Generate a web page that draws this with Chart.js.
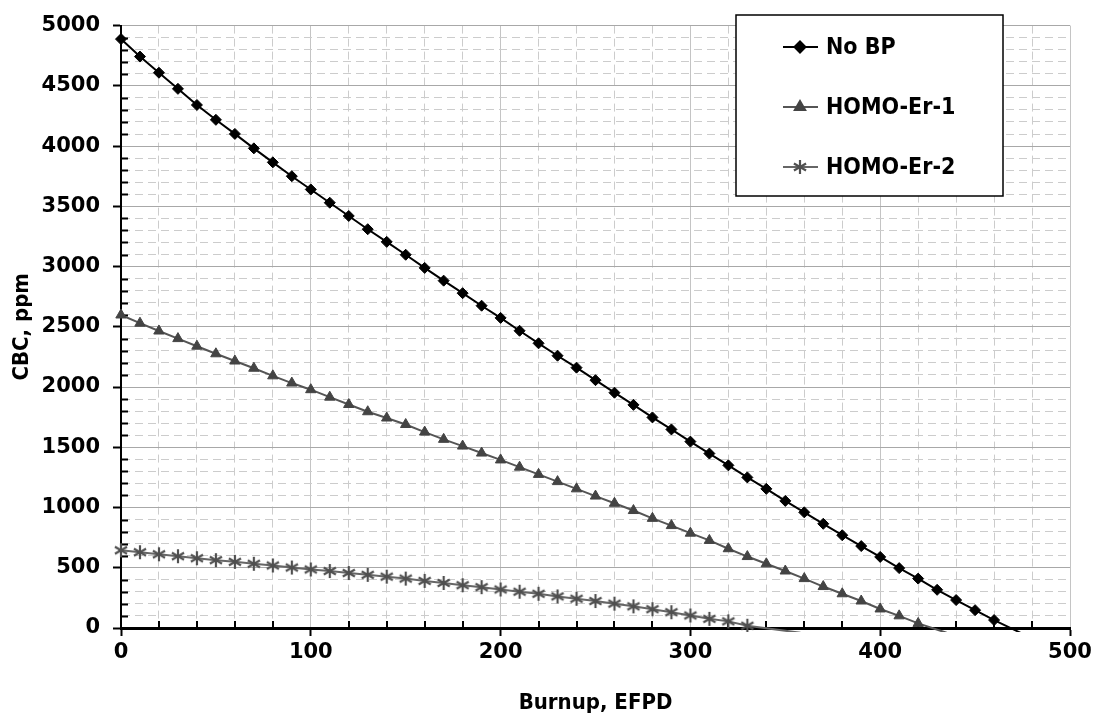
<!DOCTYPE html>
<html>
<head>
<meta charset="utf-8">
<script src="https://cdn.jsdelivr.net/npm/chart.js@4.4.1/dist/chart.umd.min.js"></script>
<style>
  html, body { margin: 0; padding: 0; background: #fff; }
  #wrap { width: 1096px; height: 717px; }
</style>
</head>
<body>
<div id="wrap"><canvas id="myChart"></canvas></div>
<script>
// Burnup steps (EFPD) and CBC values (ppm)
const burnup = [0, 10, 20, 30, 40, 50, 60, 70, 80, 90, 100, 110, 120, 130, 140, 150, 160, 170, 180, 190,
  200, 210, 220, 230, 240, 250, 260, 270, 280, 290, 300, 310, 320, 330, 340, 350, 360, 370, 380, 390,
  400, 410, 420, 430, 440, 450, 460];

const noBP = [4888, 4743, 4609, 4475, 4341, 4218, 4101, 3981, 3865, 3750, 3640, 3530, 3420, 3310, 3205,
  3098, 2989, 2883, 2779, 2675, 2574, 2467, 2363, 2260, 2161, 2057, 1953, 1852, 1748, 1648, 1547, 1448,
  1350, 1250, 1155, 1055, 960, 865, 770, 680, 590, 497, 410, 317, 232, 148, 66];

const homoEr1 = [2598, 2530, 2465, 2402, 2339, 2276, 2216, 2156, 2093, 2033, 1978, 1916, 1855, 1795, 1743,
  1689, 1626, 1566, 1510, 1452, 1395, 1335, 1275, 1215, 1155, 1095, 1035, 975, 910, 850, 787, 727, 658,
  593, 533, 473, 410, 344, 284, 224, 158, 101, 38];

const homoEr2 = [645, 629, 612, 596, 579, 563, 549, 533, 519, 502, 486, 473, 456, 441, 426, 410, 391, 374,
  355, 339, 320, 301, 284, 262, 243, 224, 202, 180, 156, 131, 104, 76, 55, 19];

// where each line runs out below the axis (no marker there)
const noBPTail = [474, -40];
const homoEr1Tail = [435, -40];
const homoEr2Tail = [358, -40];

const xTicks = [0, 100, 200, 300, 400, 500];
const yTicks = [0, 500, 1000, 1500, 2000, 2500, 3000, 3500, 4000, 4500, 5000];

const FONT = '"DejaVu Sans Condensed", "DejaVu Sans", sans-serif';
const TICK_FONT = '"DejaVu Sans", sans-serif';

function toPoints(vals, tail) {
  const pts = vals.map((v, i) => ({ x: burnup[i], y: v }));
  pts.push({ x: tail[0], y: tail[1] });
  return pts;
}

// six-spoke asterisk marker
function makeStar(color) {
  const c = document.createElement('canvas');
  c.width = 16; c.height = 16;
  const g = c.getContext('2d');
  g.strokeStyle = color;
  g.lineWidth = 2.2;
  const r = 7;
  for (let a = 0; a < 3; a++) {
    const ang = Math.PI / 2 + a * Math.PI / 3;
    g.beginPath();
    g.moveTo(8 + Math.cos(ang) * r, 8 - Math.sin(ang) * r);
    g.lineTo(8 - Math.cos(ang) * r, 8 + Math.sin(ang) * r);
    g.stroke();
  }
  return c;
}
const starImg = makeStar('#505050');

const noMarkerOnTail = ctx => (ctx.dataIndex === ctx.dataset.data.length - 1 ? 0 : ctx.dataset.markerSize);

const minorTicks = {
  id: 'minorTicks',
  beforeDatasetsDraw(chart) {
    const { ctx, scales: { x, y } } = chart;
    ctx.save();
    ctx.strokeStyle = '#000';
    ctx.lineWidth = 2;
    y.ticks.forEach(t => {
      if (t.value % 500 === 0) return;
      const py = Math.round(y.getPixelForValue(t.value)) + 0.5;
      ctx.beginPath(); ctx.moveTo(x.left, py); ctx.lineTo(x.left + 7, py); ctx.stroke();
    });
    x.ticks.forEach(t => {
      if (t.value % 100 === 0) return;
      const px = Math.round(x.getPixelForValue(t.value));
      ctx.beginPath(); ctx.moveTo(px, y.bottom); ctx.lineTo(px, y.bottom - 7); ctx.stroke();
    });
    ctx.restore();
  }
};

const boxLegend = {
  id: 'boxLegend',
  afterDraw(chart) {
    const { ctx } = chart;
    const left = 736, top = 15, width = 267, height = 181;
    ctx.save();
    ctx.fillStyle = '#fff';
    ctx.fillRect(left, top, width, height);
    ctx.strokeStyle = '#000';
    ctx.lineWidth = 1.5;
    ctx.strokeRect(left, top, width, height);
    const rows = [47, 107, 167];
    chart.data.datasets.forEach((ds, i) => {
      const yy = rows[i];
      ctx.strokeStyle = ds.borderColor;
      ctx.lineWidth = 2;
      ctx.beginPath(); ctx.moveTo(783, yy); ctx.lineTo(818, yy); ctx.stroke();
      ctx.fillStyle = ds.pointBackgroundColor;
      ctx.strokeStyle = ds.pointBorderColor;
      Chart.helpers.drawPoint(ctx, { pointStyle: ds.pointStyle, radius: ds.markerSize, rotation: 0, borderWidth: 1 }, 800, yy);
      ctx.fillStyle = '#000';
      ctx.font = 'bold 23px ' + FONT;
      ctx.textBaseline = 'middle';
      ctx.textAlign = 'left';
      ctx.fillText(ds.label, 826, yy + 1);
    });
    ctx.restore();
  }
};

const ctx = document.getElementById('myChart').getContext('2d');
const myChart = new Chart(ctx, {
  type: 'line',
  data: {
    datasets: [{
      label: 'No BP',
      data: toPoints(noBP, noBPTail),
      borderColor: '#000000',
      borderWidth: 2,
      pointStyle: 'rectRot',
      markerSize: 5.5,
      pointRadius: noMarkerOnTail,
      pointBackgroundColor: '#000000',
      pointBorderColor: '#000000',
      pointBorderWidth: 1,
      clip: { left: 12, top: 12, right: 12, bottom: 4 }
    }, {
      label: 'HOMO-Er-1',
      data: toPoints(homoEr1, homoEr1Tail),
      borderColor: '#555555',
      borderWidth: 2,
      pointStyle: 'triangle',
      markerSize: 6,
      pointRadius: noMarkerOnTail,
      pointBackgroundColor: '#444444',
      pointBorderColor: '#444444',
      pointBorderWidth: 1,
      clip: { left: 12, top: 12, right: 12, bottom: 4 }
    }, {
      label: 'HOMO-Er-2',
      data: toPoints(homoEr2, homoEr2Tail),
      borderColor: '#666666',
      borderWidth: 2,
      pointStyle: starImg,
      markerSize: 7,
      pointRadius: noMarkerOnTail,
      pointBackgroundColor: '#505050',
      pointBorderColor: '#505050',
      pointBorderWidth: 1,
      clip: { left: 12, top: 12, right: 12, bottom: 4 }
    }]
  },
  options: {
    responsive: true,
    maintainAspectRatio: false,
    animation: false,
    layout: { padding: { top: 18, right: 26, left: 0, bottom: 0 } },
    plugins: { legend: { display: false }, tooltip: { enabled: false } },
    elements: { line: { tension: 0 } },
    scales: {
      x: {
        type: 'linear',
        min: 0,
        max: 500,
        afterFit: s => { s.height = 89; },
        ticks: {
          stepSize: 20,
          autoSkip: false,
          maxRotation: 0,
          padding: 4,
          color: '#000',
          font: { family: TICK_FONT, size: 21, weight: 'bold' },
          callback: v => (xTicks.includes(v) ? v : '')
        },
        grid: {
          color: c => (c.tick && c.tick.value % 100 === 0 ? '#c4c4c4' : '#cccccc'),
          lineWidth: 1,
          tickLength: 8,
          tickWidth: 2,
          tickColor: c => (c.tick && c.tick.value % 100 === 0 ? '#000' : 'rgba(0,0,0,0)')
        },
        border: {
          display: true,
          color: '#000',
          width: 3,
          dash: c => (c.tick && c.tick.value % 100 !== 0 ? [8, 5] : [])
        },
        title: {
          display: true,
          text: 'Burnup, EFPD',
          color: '#000',
          font: { family: FONT, size: 22, weight: 'bold' },
          padding: { top: 0, bottom: 1 }
        }
      },
      y: {
        min: 0,
        max: 5000,
        afterFit: s => { s.width = 121; },
        ticks: {
          stepSize: 100,
          autoSkip: false,
          padding: 13,
          color: '#000',
          font: { family: TICK_FONT, size: 21, weight: 'bold' },
          callback: v => (yTicks.includes(v) ? v : '')
        },
        grid: {
          color: c => (c.tick && c.tick.value % 500 === 0 ? '#a8a8a8' : '#cccccc'),
          lineWidth: 1,
          tickLength: 8,
          tickWidth: 2,
          tickColor: c => (c.tick && c.tick.value % 500 === 0 ? '#000' : 'rgba(0,0,0,0)')
        },
        border: {
          display: true,
          color: '#000',
          width: 2,
          dash: c => (c.tick && c.tick.value % 500 !== 0 ? [8, 5] : [])
        },
        title: {
          display: true,
          text: 'CBC, ppm',
          color: '#000',
          font: { family: FONT, size: 22, weight: 'bold' },
          padding: { top: 9, bottom: 0 }
        }
      }
    }
  },
  plugins: [minorTicks, boxLegend]
});
</script>
</body>
</html>
